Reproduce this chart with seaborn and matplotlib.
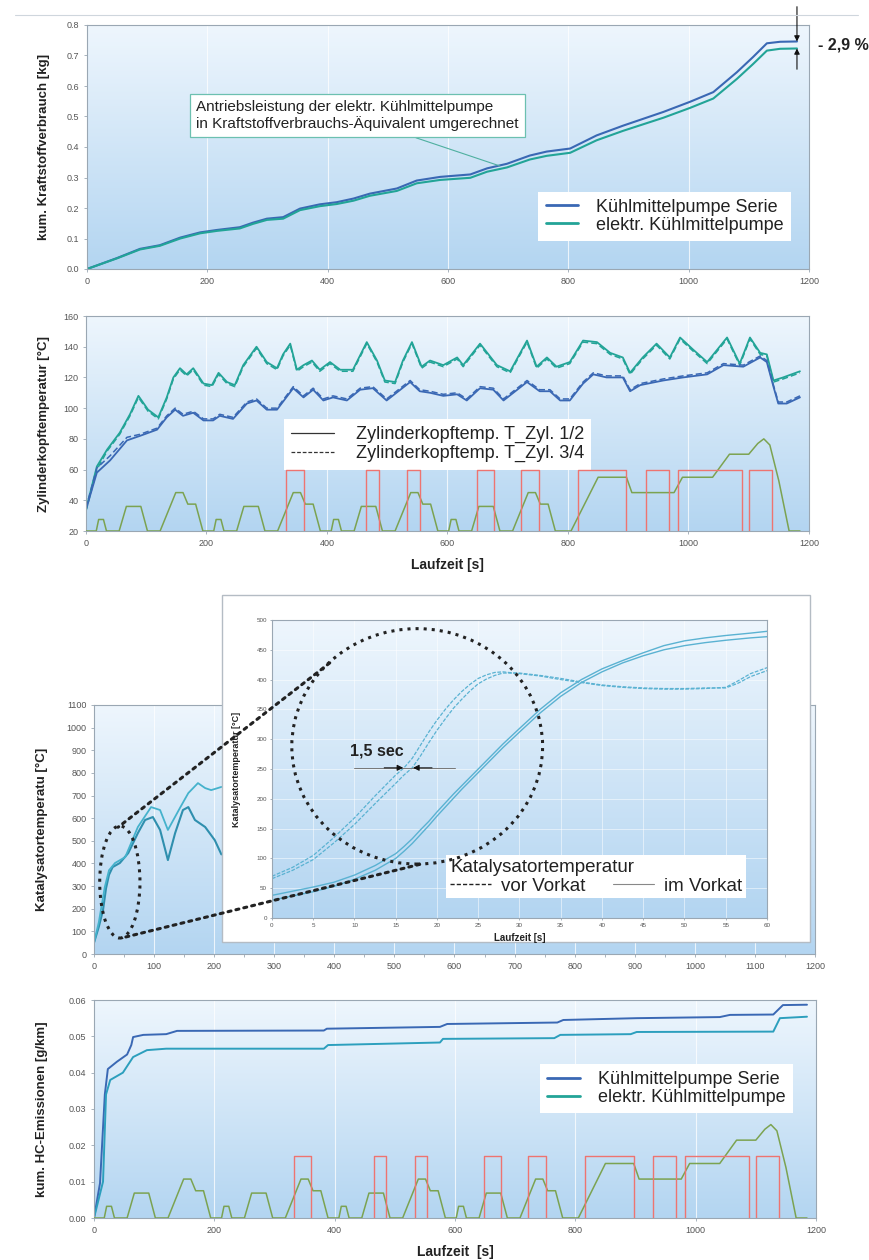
import numpy as np
import matplotlib
matplotlib.use("Agg")
import matplotlib.pyplot as plt
import seaborn as sns
from matplotlib.colors import LinearSegmentedColormap
from matplotlib.patches import Rectangle, Ellipse, ConnectionPatch
from matplotlib.lines import Line2D
from matplotlib.ticker import MultipleLocator, FormatStrFormatter

sns.set_theme(style="white")
plt.rcParams["font.family"] = ["Liberation Sans", "DejaVu Sans"]

# ---------------- data ----------------
# Panel 1: cumulative fuel consumption [kg]
t_fuel = [0, 50, 88, 121, 155, 188, 216, 254, 276, 299, 326, 354, 387, 415, 443, 470, 515, 548,
          587, 637, 665, 698, 736, 764, 803, 847, 891, 958, 1002, 1041, 1080, 1107, 1130, 1152, 1180]
fuel_serie = [0, 0.036, 0.066, 0.078, 0.103, 0.120, 0.128, 0.137, 0.152, 0.165, 0.170, 0.198, 0.212,
              0.219, 0.231, 0.247, 0.264, 0.290, 0.302, 0.310, 0.330, 0.345, 0.372, 0.385, 0.395,
              0.438, 0.470, 0.515, 0.548, 0.580, 0.645, 0.695, 0.740, 0.745, 0.746]
fuel_elektr = [0, 0.035, 0.064, 0.076, 0.100, 0.117, 0.125, 0.133, 0.148, 0.161, 0.165, 0.193, 0.206,
               0.213, 0.224, 0.240, 0.256, 0.281, 0.292, 0.299, 0.319, 0.333, 0.359, 0.371, 0.381,
               0.422, 0.453, 0.496, 0.528, 0.559, 0.623, 0.672, 0.716, 0.722, 0.723]

# Panel 2: cylinder head temperature [°C]
t_cyl_el = [0, 18, 35, 56, 73, 87, 103, 120, 134, 145, 156, 167, 178, 195, 209, 220, 234, 247, 261, 283,
            300, 317, 327, 339, 350, 361, 375, 388, 405, 422, 443, 466, 483, 496, 513, 526, 541, 557, 571, 593,
            616, 626, 654, 682, 704, 732, 748, 765, 781, 803, 825, 848, 870, 891, 903, 924, 947, 969, 986, 1008,
            1031, 1064, 1085, 1102, 1119, 1130, 1141, 1157, 1185]
cyl_el_12 = [34, 62, 73, 84, 96, 108, 99, 94, 107, 120, 126, 122, 126, 116, 115, 123, 117, 115, 128, 140,
             130, 126, 135, 142, 125, 128, 131, 125, 130, 125, 125, 143, 131, 118, 117, 131, 143, 127, 131, 128,
             133, 128, 142, 128, 124, 144, 127, 133, 127, 130, 144, 143, 136, 133, 123, 133, 142, 133, 146, 138,
             130, 146, 129, 146, 136, 135, 118, 120, 124]
cyl_el_34 = [33, 60, 72, 83, 95, 107, 98, 93, 106, 119, 125, 121, 125, 115, 114, 122, 116, 114, 127, 139,
             129, 125, 134, 141, 124, 127, 130, 124, 129, 124, 124, 142, 130, 117, 116, 130, 142, 126, 130, 127,
             132, 127, 141, 127, 123, 143, 126, 132, 126, 129, 143, 142, 135, 132, 122, 132, 141, 132, 145, 137,
             129, 145, 128, 145, 135, 134, 117, 119, 123]
t_cyl_se = [0, 18, 40, 68, 90, 118, 134, 148, 161, 178, 195, 211, 222, 244, 267, 283, 300, 317, 344, 361,
            377, 394, 410, 433, 455, 476, 499, 538, 554, 571, 593, 616, 632, 654, 676, 693, 732, 753, 770, 787,
            803, 825, 842, 864, 891, 903, 920, 958, 991, 1031, 1058, 1091, 1119, 1130, 1141, 1149, 1163, 1185]
cyl_se_12 = [34, 58, 66, 79, 82, 86, 94, 99, 95, 97, 92, 92, 95, 93, 103, 105, 99, 99, 113, 107,
             112, 105, 107, 105, 112, 113, 105, 117, 111, 110, 108, 109, 105, 113, 112, 105, 117, 111, 111, 105,
             105, 116, 122, 120, 120, 111, 115, 118, 120, 122, 128, 127, 133, 130, 114, 103, 103, 107]
cyl_se_34 = [35, 61, 69, 81, 83, 87, 95, 100, 96, 98, 93, 93, 96, 94, 104, 106, 100, 100, 114, 108,
             113, 106, 108, 106, 113, 114, 106, 118, 112, 111, 109, 110, 106, 114, 113, 106, 118, 112, 112, 106,
             106, 117, 123, 121, 121, 112, 116, 119, 121, 123, 129, 128, 134, 131, 115, 104, 104, 108]

# Driving cycle (vehicle speed, km/h) and pump signal
t_speed = [0, 17, 21, 29, 34, 55, 67, 91, 102, 123, 149, 161, 169, 182, 194,
           212, 216, 224, 229, 250, 262, 286, 297, 318, 344, 356, 364, 377, 389,
           407, 411, 419, 424, 445, 457, 481, 492, 513, 539, 551, 559, 572, 584,
           602, 606, 614, 619, 640, 652, 676, 687, 708, 734, 746, 754, 767, 779,
           805, 850, 897, 906, 976, 990, 1040, 1068, 1100, 1115, 1125, 1135, 1150, 1167, 1185]
speed_kmh = [0, 0, 15, 15, 0, 0, 32, 32, 0, 0, 50, 50, 35, 35, 0,
             0, 15, 15, 0, 0, 32, 32, 0, 0, 50, 50, 35, 35, 0,
             0, 15, 15, 0, 0, 32, 32, 0, 0, 50, 50, 35, 35, 0,
             0, 15, 15, 0, 0, 32, 32, 0, 0, 50, 50, 35, 35, 0,
             0, 70, 70, 50, 50, 70, 70, 100, 100, 114, 120, 112, 65, 0, 0]
pump_start = [332, 465, 533, 649, 722, 816, 929, 983, 1101]
pump_end = [361, 486, 554, 677, 752, 897, 968, 1089, 1138]
pump_level = 80

# Panel 3: catalyst temperature, main plot (first seconds visible)
t_kat_a = [0, 8, 15, 20, 25, 31, 43, 57, 73, 85, 98, 110, 123, 135, 148, 157, 168, 185, 201, 212]
kat_a = [50, 120, 194, 290, 350, 384, 402, 446, 534, 592, 605, 548, 415, 534, 636, 649, 592, 561, 503, 440]
t_kat_b = [0, 8, 18, 25, 35, 52, 73, 95, 110, 123, 143, 157, 173, 185, 195, 212]
kat_b = [50, 140, 296, 370, 402, 428, 561, 649, 636, 548, 645, 711, 755, 733, 724, 738]

# Panel 3: zoomed inset (0-60 s)
t_zoom = [0, 2.5, 5, 7.5, 10, 12.5, 15, 16, 17, 18, 19, 20, 21, 22, 23, 24, 25, 26, 27, 28,
          30, 32.5, 35, 37.5, 40, 42.5, 45, 47.5, 50, 52.5, 55, 56.5, 58, 60]
vor_1 = [70, 85, 105, 135, 168, 205, 240, 252, 268, 290, 312, 332, 350, 366, 380, 392, 402, 408, 412, 413,
         410, 406, 400, 395, 390, 387, 385, 384, 384, 385, 387, 398, 410, 420]
vor_2 = [66, 80, 98, 126, 157, 192, 226, 240, 252, 272, 294, 315, 334, 352, 367, 381, 393, 401, 407, 411,
         411, 407, 402, 396, 391, 388, 386, 385, 385, 386, 386, 394, 405, 415]
im_1 = [38, 45, 52, 60, 72, 88, 108, 120, 133, 148, 162, 178, 193, 208, 222, 236, 250, 264, 278, 292,
        318, 350, 378, 400, 418, 432, 445, 457, 465, 470, 474, 476, 478, 481]
im_2 = [30, 37, 44, 53, 65, 80, 100, 112, 125, 140, 155, 171, 186, 201, 216, 230, 244, 258, 272, 286,
        312, 344, 372, 395, 413, 428, 440, 450, 457, 462, 466, 468, 470, 472]

# Panel 4: cumulative HC emissions [g/km]
t_hc_serie = [0, 10, 18, 23, 38, 55, 62, 65, 82, 120, 138, 382, 387, 575, 587, 770, 780, 902, 1040,
              1057, 1129, 1145, 1185]
hc_serie = [0, 0.0096, 0.034, 0.041, 0.043, 0.045, 0.0476, 0.0498, 0.0504, 0.0506, 0.0515, 0.0516,
            0.0521, 0.0526, 0.0534, 0.0538, 0.0545, 0.0550, 0.0553, 0.0559, 0.0560, 0.0586, 0.0587]
t_hc_elektr = [0, 15, 20, 27, 48, 65, 88, 120, 382, 389, 575, 580, 765, 775, 892, 902, 1129, 1140, 1185]
hc_elektr = [0, 0.010, 0.034, 0.038, 0.040, 0.0443, 0.0462, 0.0466, 0.0466, 0.0476, 0.0483, 0.0493,
             0.0495, 0.0504, 0.0506, 0.0512, 0.0513, 0.0550, 0.0554]

legend_pump = ["Kühlmittelpumpe Serie", "elektr. Kühlmittelpumpe"]
legend_cyl = ["Zylinderkopftemp. T_Zyl. 1/2", "Zylinderkopftemp. T_Zyl. 3/4"]
legend_kat = ["vor Vorkat", "im Vorkat"]

# ---------------- styling ----------------
C_SERIE = "#3a68b4"
C_ELEKTR = "#22a497"
C_SPEED = "#78a048"
C_PUMP = "#ee7470"
C_KAT_A = "#2f8fae"
C_KAT_B = "#45b2cc"
C_ZOOM = "#5ab2d2"
SPINE = "#9aa7b3"

bg_cmap = LinearSegmentedColormap.from_list("bg", ["#b3d5f1", "#eef6fd"])

W, H = 870, 1260
fig = plt.figure(figsize=(8.7, 12.6), dpi=100)
fig.patch.set_facecolor("white")


def rect_px(l, t, r, b):
    return [l / W, 1 - b / H, (r - l) / W, (b - t) / H]


def add_bg(ax):
    grad = np.linspace(0, 1, 256).reshape(-1, 1)
    ax.imshow(grad, cmap=bg_cmap, origin="lower", extent=[0, 1, 0, 1],
              transform=ax.transAxes, aspect="auto", zorder=-10, interpolation="bicubic")


def style(ax, xlim, ylim, xstep, ystep, yfmt, labelsize=6.5):
    ax.set_xlim(*xlim)
    ax.set_ylim(*ylim)
    ax.xaxis.set_major_locator(MultipleLocator(xstep))
    ax.yaxis.set_major_locator(MultipleLocator(ystep))
    ax.yaxis.set_major_formatter(FormatStrFormatter(yfmt))
    ax.tick_params(axis="both", which="both", bottom=True, left=True, direction="out",
                   length=2.5, width=0.6, color=SPINE, labelsize=labelsize,
                   labelcolor="#555555", pad=3)
    for s in ax.spines.values():
        s.set_color(SPINE)
        s.set_linewidth(0.8)
    ax.grid(axis="x", color="white", lw=0.8, alpha=0.75)
    ax.set_axisbelow(True)


def line(ax, x, y, **kw):
    sns.lineplot(x=x, y=y, ax=ax, estimator=None, sort=False, legend=False, **kw)


def speed_overlay(ax):
    axt = ax.twinx()
    axt.set_ylim(0, 280)
    axt.set_xlim(ax.get_xlim())
    axt.axis("off")
    line(axt, t_speed, speed_kmh, color=C_SPEED, lw=1.1, alpha=0.95)
    for s, e in zip(pump_start, pump_end):
        axt.plot([s, s, e, e], [0, pump_level, pump_level, 0], color=C_PUMP, lw=1.0)
    return axt


def legend_box(ax, handles, labels, **kw):
    leg = ax.legend(handles, labels, frameon=True, fancybox=False, framealpha=1,
                    edgecolor="none", facecolor="white", **kw)
    for txt in leg.get_texts():
        txt.set_color("#222222")
    return leg


LABEL_KW = dict(fontsize=9.5, fontweight="bold", color="#222")

# thin line at very top
fig.add_artist(Line2D([15 / W, 858 / W], [1 - 15 / H, 1 - 15 / H], color="#cfd6dd", lw=0.8))

# ---------------- Panel 1 ----------------
ax1 = fig.add_axes(rect_px(87, 25, 809, 269))
add_bg(ax1)
line(ax1, t_fuel, fuel_serie, color=C_SERIE, lw=1.5)
line(ax1, t_fuel, fuel_elektr, color=C_ELEKTR, lw=1.5)
style(ax1, (0, 1200), (0, 0.8), 200, 0.1, "%.1f")
ax1.set_ylabel("kum. Kraftstoffverbrauch [kg]", **LABEL_KW)
ax1.yaxis.set_label_coords(-0.051, 0.5)
legend_box(ax1, [Line2D([], [], color=C_SERIE, lw=2), Line2D([], [], color=C_ELEKTR, lw=2)],
           legend_pump, loc="lower right", bbox_to_anchor=(0.9875, 0.078), fontsize=13,
           handlelength=1.8, handletextpad=1.0, labelspacing=0.05, borderpad=0.4)
ax1.annotate("Antriebsleistung der elektr. Kühlmittelpumpe\nin Kraftstoffverbrauchs-Äquivalent umgerechnet",
             xy=(686, 0.338), xycoords="data", xytext=(0.375, 0.629), textcoords="axes fraction",
             ha="center", va="center", multialignment="left", fontsize=11, color="#222",
             bbox=dict(boxstyle="square,pad=0.4", fc="white", ec="#6cc0b0", lw=0.9),
             arrowprops=dict(arrowstyle="-", color="#4fb0a0", lw=0.8, relpos=(0.62, 0),
                             shrinkA=0, shrinkB=0))
arrow_kw = dict(arrowstyle="-|>", color="#111", lw=0.8, mutation_scale=8, shrinkA=0, shrinkB=0)
ax1.annotate("", xy=(1180, fuel_serie[-1]), xytext=(1180, 0.86), arrowprops=arrow_kw,
             annotation_clip=False)
ax1.annotate("", xy=(1180, fuel_elektr[-1]), xytext=(1180, 0.655), arrowprops=arrow_kw,
             annotation_clip=False)
ax1.text(1.012, 0.918, "- 2,9 %", transform=ax1.transAxes, fontsize=11.5, fontweight="bold",
         va="center", ha="left", color="#222", clip_on=False)

# ---------------- Panel 2 ----------------
ax2 = fig.add_axes(rect_px(86, 316, 809, 531))
add_bg(ax2)
line(ax2, t_cyl_el, cyl_el_12, color=C_ELEKTR, lw=1.3)
line(ax2, t_cyl_el, cyl_el_34, color=C_ELEKTR, lw=1.1, linestyle=(0, (4, 2)))
line(ax2, t_cyl_se, cyl_se_12, color=C_SERIE, lw=1.3)
line(ax2, t_cyl_se, cyl_se_34, color=C_SERIE, lw=1.1, linestyle=(0, (4, 2)))
style(ax2, (0, 1200), (20, 160), 200, 20, "%d")
speed_overlay(ax2)
ax2.set_ylabel("Zylinderkopftemperatur [°C]", **LABEL_KW)
ax2.yaxis.set_label_coords(-0.05, 0.5)
ax2.set_xlabel("Laufzeit [s]", fontsize=10, fontweight="bold", color="#222")
ax2.xaxis.set_label_coords(0.5, -0.125)
legend_box(ax2, [Line2D([], [], color="#333", lw=0.9), Line2D([], [], color="#333", lw=0.9, ls=(0, (3, 1.5)))],
           legend_cyl, loc="upper left", bbox_to_anchor=(0.261, 0.563), fontsize=13,
           handlelength=2.4, handletextpad=1.2, labelspacing=0.1, borderpad=0.4)

# ---------------- Panel 3 ----------------
ax3 = fig.add_axes(rect_px(94, 705, 815, 954))
ax3.set_zorder(0)
add_bg(ax3)
line(ax3, t_kat_a, kat_a, color=C_KAT_A, lw=1.5)
line(ax3, t_kat_b, kat_b, color=C_KAT_B, lw=1.3)
style(ax3, (0, 1200), (0, 1100), 100, 100, "%d")
ax3.xaxis.set_minor_locator(MultipleLocator(50))
ax3.set_ylabel("Katalysatortemperatu [°C]", **LABEL_KW)
ax3.yaxis.set_label_coords(-0.064, 0.5)
small_ell = Ellipse((43, 318), width=67, height=495, fill=False, ls=":", lw=2.2,
                    color="#222", zorder=6, clip_on=False)
ax3.add_patch(small_ell)

frame = Rectangle((222 / W, 1 - 942 / H), 588 / W, 347 / H, transform=fig.transFigure,
                  facecolor="white", edgecolor="#b4bcc4", lw=1.0, zorder=1)
fig.add_artist(frame)

axin = fig.add_axes(rect_px(272, 620, 767, 918))
axin.set_zorder(2)
add_bg(axin)
line(axin, t_zoom, vor_1, color=C_ZOOM, lw=0.9, linestyle=(0, (3, 1.2)))
line(axin, t_zoom, vor_2, color=C_ZOOM, lw=0.9, linestyle=(0, (3, 1.2)))
line(axin, t_zoom, im_1, color=C_ZOOM, lw=1.0)
line(axin, t_zoom, im_2, color=C_ZOOM, lw=1.0)
style(axin, (0, 60), (0, 500), 5, 50, "%d", labelsize=4.5)
axin.tick_params(length=1.5, pad=2)
axin.grid(axis="both", color="white", lw=0.6, alpha=0.6)
axin.set_ylabel("Katalysatortemperatur [°C]", fontsize=6.5, fontweight="bold", color="#222")
axin.yaxis.set_label_coords(-0.062, 0.5)
axin.set_xlabel("Laufzeit [s]", fontsize=7, fontweight="bold", color="#222")
axin.xaxis.set_label_coords(0.5, -0.05)
big_circ = Ellipse((17.6, 288), width=30.4, height=395, fill=False, ls=":", lw=2.2,
                   color="#222", zorder=6, clip_on=False)
axin.add_patch(big_circ)
axin.plot([10, 22.2], [252, 252], color="#777", lw=0.7)
sec_kw = dict(arrowstyle="-|>", color="#111", lw=0.7, mutation_scale=9, shrinkA=0, shrinkB=0)
axin.annotate("", xy=(15.9, 252), xytext=(13.6, 252), arrowprops=sec_kw)
axin.annotate("", xy=(17.1, 252), xytext=(19.4, 252), arrowprops=sec_kw)
axin.text(12.7, 280, "1,5 sec", fontsize=11.5, fontweight="bold", ha="center", va="center", color="#222")
leg = axin.legend([Line2D([], [], color="#222", lw=1.0, ls=(0, (3, 1.5))),
                   Line2D([], [], color="#888", lw=0.8)], legend_kat,
                  title="Katalysatortemperatur", ncol=2, loc="lower right",
                  bbox_to_anchor=(0.976, 0.034), fontsize=13.5, title_fontsize=13.5,
                  frameon=True, fancybox=False, framealpha=1, edgecolor="none", facecolor="white",
                  handlelength=2.2, columnspacing=1.5, borderpad=0.2, alignment="left",
                  handletextpad=0.5, labelspacing=0.1)
leg.get_title().set_color("#222")
for txt in leg.get_texts():
    txt.set_color("#222")

for xyA, xyB in [((7.0, 428), (40, 560)), ((17.9, 90), (45, 70))]:
    con = ConnectionPatch(xyA=xyA, coordsA=axin.transData, xyB=xyB, coordsB=ax3.transData,
                          ls=":", lw=2.2, color="#222", zorder=3)
    fig.add_artist(con)

# ---------------- Panel 4 ----------------
ax4 = fig.add_axes(rect_px(94, 1000, 816, 1218))
add_bg(ax4)
line(ax4, t_hc_serie, hc_serie, color=C_SERIE, lw=1.4)
line(ax4, t_hc_elektr, hc_elektr, color="#2c9fbd", lw=1.4)
style(ax4, (0, 1200), (0, 0.06), 200, 0.01, "%.2f")
speed_overlay(ax4)
ax4.set_ylabel("kum. HC-Emissionen [g/km]", **LABEL_KW)
ax4.yaxis.set_label_coords(-0.064, 0.5)
ax4.set_xlabel("Laufzeit  [s]", fontsize=10, fontweight="bold", color="#222")
ax4.xaxis.set_label_coords(0.5, -0.125)
legend_box(ax4, [Line2D([], [], color=C_SERIE, lw=2), Line2D([], [], color=C_ELEKTR, lw=2)],
           legend_pump, loc="lower right", bbox_to_anchor=(0.98, 0.44), fontsize=13,
           handlelength=1.8, handletextpad=1.0, labelspacing=0.05, borderpad=0.4)

fig.savefig("out.png", dpi=100, facecolor="white")
